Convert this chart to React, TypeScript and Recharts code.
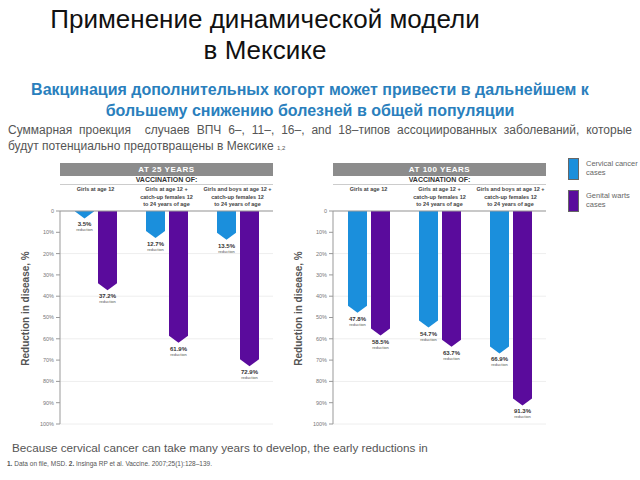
import React from "react";
import {
  BarChart,
  Bar,
  XAxis,
  YAxis,
  CartesianGrid,
  LabelList,
} from "recharts";

const groups = [
  ["Girls at age 12"],
  ["Girls at age 12 +", "catch-up females 12", "to 24 years of age"],
  ["Girls and boys at age 12 +", "catch-up females 12", "to 24 years of age"],
];

const cervical25 = [3.5, 12.7, 13.5];
const warts25 = [37.2, 61.9, 72.9];
const cervical100 = [47.8, 54.7, 66.9];
const warts100 = [58.5, 63.7, 91.3];

const yTicks = [0, 10, 20, 30, 40, 50, 60, 70, 80, 90, 100];

const seriesNames = ["Cervical cancer cases", "Genital warts cases"];
const BLUE = "#1b8fdc";
const PURPLE = "#5a0b9c";

const toRows = (cervical: number[], warts: number[]) =>
  groups.map((g, i) => ({
    group: g.join("|"),
    cervical: cervical[i],
    warts: warts[i],
  }));

// bar hanging down from 0 with a pointed end
const ArrowBar = (props: any) => {
  const { x, y, width, height, fill } = props;
  const top = Math.min(y, y + height);
  const bottom = Math.max(y, y + height);
  const p = Math.min(7, bottom - top);
  const d = `M${x},${top} L${x + width},${top} L${x + width},${bottom - p} L${
    x + width / 2
  },${bottom} L${x},${bottom - p} Z`;
  return <path d={d} fill={fill} />;
};

const ReductionLabel = (props: any) => {
  const { x, y, width, height, value } = props;
  const bottom = Math.max(y, y + height);
  const cx = x + width / 2;
  return (
    <g>
      <text
        x={cx}
        y={bottom + 8}
        textAnchor="middle"
        fontSize={6}
        fontWeight="bold"
        fill="#333"
      >
        {value.toFixed(1)}%
      </text>
      <text x={cx} y={bottom + 13} textAnchor="middle" fontSize={4} fill="#555">
        reduction
      </text>
    </g>
  );
};

const GroupTick = (props: any) => {
  const { x, y, payload } = props;
  const lines = String(payload.value).split("|");
  return (
    <g>
      {lines.map((l, i) => (
        <text
          key={i}
          x={x}
          y={y - 20 + i * 7.5}
          textAnchor="middle"
          fontSize={5.5}
          fontWeight="bold"
          fill="#444"
        >
          {l}
        </text>
      ))}
    </g>
  );
};

const Panel = ({
  left,
  title,
  cervical,
  warts,
}: {
  left: number;
  title: string;
  cervical: number[];
  warts: number[];
}) => {
  const data = toRows(cervical, warts);
  return (
    <>
      <div
        style={{
          position: "absolute",
          left: left + 40,
          top: 163,
          width: 213,
          height: 13,
          background: "#8c8c8c",
          color: "#fff",
          fontWeight: "bold",
          fontSize: 8,
          lineHeight: "13px",
          textAlign: "center",
          letterSpacing: 0.5,
        }}
      >
        {title}
      </div>
      <div
        style={{
          position: "absolute",
          left: left + 40,
          top: 175,
          width: 213,
          height: 9,
          borderBottom: "1px solid #ccc",
          color: "#333",
          fontWeight: "bold",
          fontSize: 7,
          lineHeight: "9px",
          textAlign: "center",
        }}
      >
        VACCINATION OF:
      </div>
      <div
        style={{
          position: "absolute",
          left: left - 75,
          top: 303,
          width: 160,
          textAlign: "center",
          transform: "rotate(-90deg)",
          fontSize: 10,
          fontWeight: "bold",
          color: "#555",
        }}
      >
        Reduction in disease, %
      </div>
      <div style={{ position: "absolute", left, top: 160 }}>
        <BarChart
          width={258}
          height={270}
          data={data}
          margin={{ top: 11, right: 5, bottom: 6, left: 12 }}
          barSize={19}
          barGap={4}
        >
          <CartesianGrid vertical={false} stroke="#eeeeee" />
          <XAxis
            dataKey="group"
            orientation="top"
            height={40}
            tickSize={0}
            tickMargin={0}
            interval={0}
            tick={<GroupTick />}
            axisLine={{ stroke: "#999" }}
          />
          <YAxis
            type="number"
            domain={[0, 100]}
            reversed
            ticks={yTicks}
            width={28}
            tickSize={4}
            tickFormatter={(v: number) => (v === 0 ? "0" : `${v}%`)}
            tick={{ fontSize: 5.5, fill: "#777" }}
            axisLine={{ stroke: "#999" }}
            tickLine={{ stroke: "#999" }}
          />
          <Bar
            dataKey="cervical"
            name={seriesNames[0]}
            fill={BLUE}
            shape={<ArrowBar />}
            isAnimationActive={false}
          >
            <LabelList dataKey="cervical" content={<ReductionLabel />} />
          </Bar>
          <Bar
            dataKey="warts"
            name={seriesNames[1]}
            fill={PURPLE}
            shape={<ArrowBar />}
            isAnimationActive={false}
          >
            <LabelList dataKey="warts" content={<ReductionLabel />} />
          </Bar>
        </BarChart>
      </div>
    </>
  );
};

const LegendItem = ({ top, color, text }: { top: number; color: string; text: string }) => {
  const words = text.split(" ");
  return (
    <>
      <div
        style={{
          position: "absolute",
          left: 568,
          top,
          width: 11,
          height: 22,
          background: color,
          border: "1px solid #666",
          boxSizing: "border-box",
        }}
      />
      <div
        style={{
          position: "absolute",
          left: 586,
          top: top + 1,
          fontSize: 7.5,
          lineHeight: "9px",
          color: "#666",
        }}
      >
        {words.slice(0, -1).join(" ")}
        <br />
        {words[words.length - 1]}
      </div>
    </>
  );
};

export default function App() {
  return (
    <div
      style={{
        position: "absolute",
        left: 0,
        top: 0,
        width: 640,
        height: 480,
        background: "#fff",
        fontFamily: "'Liberation Sans', Arial, sans-serif",
        overflow: "hidden",
      }}
    >
      <div
        style={{
          position: "absolute",
          top: 4,
          left: 0,
          width: 530,
          textAlign: "center",
          fontFamily: "'Liberation Sans Narrow', 'Liberation Sans', sans-serif",
          fontSize: 26,
          lineHeight: "31px",
          color: "#111",
        }}
      >
        Применение динамической модели
        <br />в Мексике
      </div>
      <div
        style={{
          position: "absolute",
          top: 79,
          left: 0,
          width: 620,
          textAlign: "center",
          fontWeight: "bold",
          fontSize: 16,
          lineHeight: "21px",
          color: "#2a7fbd",
        }}
      >
        Вакцинация дополнительных когорт может привести в дальнейшем к
        <br />
        большему снижению болезней в общей популяции
      </div>
      <div
        style={{
          position: "absolute",
          top: 122,
          left: 8,
          width: 624,
          fontSize: 12,
          lineHeight: "16px",
          color: "#555",
        }}
      >
        <div style={{ textAlign: "justify", textAlignLast: "justify" }}>
          Суммарная проекция&nbsp; случаев ВПЧ 6–, 11–, 16–, and 18–типов
          ассоциированных заболеваний, которые
        </div>
        <div>
          будут потенциально предотвращены в Мексике{" "}
          <span style={{ fontSize: 6 }}>1,2</span>
        </div>
      </div>

      <Panel left={20} title="AT 25 YEARS" cervical={cervical25} warts={warts25} />
      <Panel left={293} title="AT 100 YEARS" cervical={cervical100} warts={warts100} />

      <LegendItem top={158} color={BLUE} text={seriesNames[0]} />
      <LegendItem top={190} color={PURPLE} text={seriesNames[1]} />

      <div
        style={{
          position: "absolute",
          top: 441,
          left: 12,
          fontSize: 11.7,
          color: "#555",
          whiteSpace: "nowrap",
        }}
      >
        Because cervical cancer can take many years to develop, the early reductions in
      </div>
      <div
        style={{
          position: "absolute",
          top: 460,
          left: 7,
          fontSize: 6.5,
          color: "#555",
          whiteSpace: "nowrap",
        }}
      >
        <b>1.</b> Data on file, MSD. <b>2.</b> Insinga RP et al. Vaccine.
        2007;25(1):128–139.
      </div>
    </div>
  );
}
